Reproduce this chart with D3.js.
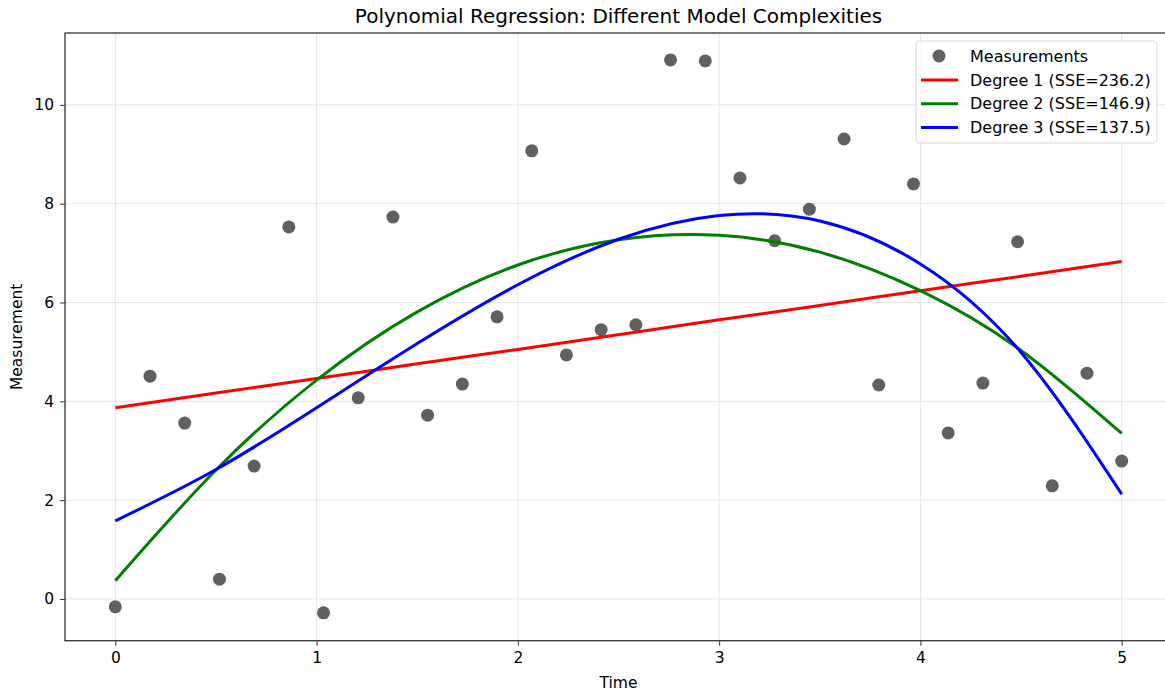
<!DOCTYPE html>
<html lang="en">
<head>
  <meta charset="utf-8">
  <title>Polynomial Regression</title>
  <script src="https://d3js.org/d3.v7.min.js"></script>
  <style>
    body { margin: 0; background: #fff; }
    text { font-family: "DejaVu Sans", sans-serif; fill: #000; }
    .grid line { stroke: #e5e5e5; stroke-width: 1; }
  </style>
</head>
<body>
  <div id="chart"></div>

  <script>
    "use strict"

    // measurements (30 samples evenly spaced over 0..5)
    var measureX = d3.range(30).map(i => i * 5 / 29);
    var measureY = [-0.16, 4.51, 3.56, 0.40, 2.69, 7.53, -0.28, 4.07, 7.73, 3.72,
                    4.35, 5.71, 9.07, 4.94, 5.45, 5.55, 10.91, 10.89, 8.52, 7.25,
                    7.89, 9.31, 4.33, 8.40, 3.36, 4.37, 7.23, 2.29, 4.57, 2.79];

    // fitted curves, read at x = 0, 0.5, ..., 5
    var curveX = [0, 0.5, 1, 1.5, 2, 2.5, 3, 3.5, 4, 4.5, 5];
    var deg1 = [3.87, 4.17, 4.46, 4.76, 5.05, 5.35, 5.65, 5.94, 6.24, 6.53, 6.83];
    var deg2 = [0.37, 2.61, 4.43, 5.81, 6.76, 7.27, 7.36, 7.02, 6.24, 5.03, 3.35];
    var deg3 = [1.58, 2.62, 3.87, 5.17, 6.36, 7.28, 7.76, 7.65, 6.78, 4.99, 2.12];

    var seriesNames = ["Degree 1 (SSE=236.2)", "Degree 2 (SSE=146.9)", "Degree 3 (SSE=137.5)"];
    var seriesColors = ["#ff0000", "#008000", "#0000ff"];
    var xTicks = [0, 1, 2, 3, 4, 5];
    var yTicks = [0, 2, 4, 6, 8, 10];

    var larguraSVG = 1165, alturaSVG = 692;
    var margin = {top: 33, left: 65},
        larguraVis = 1107,
        alturaVis = 607.7;

    var svg = d3.select('#chart')
      .append('svg')
        .attr('width', larguraSVG)
        .attr('height', alturaSVG);

    var grafico = svg.append('g')
        .attr('transform', 'translate(' + margin.left + ',' + margin.top + ')');

    var x = d3.scaleLinear().domain([-0.25, 5.25]).range([0, larguraVis]);
    var y = d3.scaleLinear().domain([-0.845, 11.455]).range([alturaVis, 0]);

    // grid
    var grid = grafico.append('g').attr('class', 'grid');
    grid.selectAll('.gx').data(xTicks).enter().append('line')
      .attr('x1', d => x(d)).attr('x2', d => x(d))
      .attr('y1', 0).attr('y2', alturaVis);
    grid.selectAll('.gy').data(yTicks).enter().append('line')
      .attr('x1', 0).attr('x2', larguraVis)
      .attr('y1', d => y(d)).attr('y2', d => y(d));

    // points
    grafico.selectAll('circle.pt')
      .data(measureY)
      .enter()
        .append('circle')
          .attr('class', 'pt')
          .attr('cx', (d, i) => x(measureX[i]))
          .attr('cy', d => y(d))
          .attr('r', 6.5)
          .style('fill', '#606060');

    // curves
    var linha = d3.line()
      .x(d => x(d[0]))
      .y(d => y(d[1]))
      .curve(d3.curveNatural);

    [deg1, deg2, deg3].forEach(function(serie, k) {
      grafico.append('path')
        .datum(curveX.map((cx, i) => [cx, serie[i]]))
        .attr('d', linha)
        .attr('fill', 'none')
        .attr('stroke', seriesColors[k])
        .attr('stroke-width', 3);
    });

    // axes
    var eixoX = grafico.append('g')
      .attr('transform', 'translate(0,' + alturaVis + ')')
      .call(d3.axisBottom(x).tickValues(xTicks).tickFormat(d3.format('d')).tickSizeOuter(0).tickSize(5).tickPadding(6));
    var eixoY = grafico.append('g')
      .call(d3.axisLeft(y).tickValues(yTicks).tickFormat(d3.format('d')).tickSizeOuter(0).tickSize(5).tickPadding(6));

    [eixoX, eixoY].forEach(function(e) {
      e.select('.domain').remove();
      e.selectAll('line').attr('stroke', '#333');
      e.selectAll('text').style('font-size', '15.5px').style('font-family', '"DejaVu Sans", sans-serif').attr('fill', '#000');
    });

    // spines
    grafico.append('rect')
      .attr('width', larguraVis).attr('height', alturaVis)
      .attr('fill', 'none').attr('stroke', '#333').attr('stroke-width', 1.3);

    // labels
    svg.append('text')
      .attr('x', margin.left + larguraVis / 2).attr('y', 23)
      .attr('text-anchor', 'middle').style('font-size', '20px')
      .text('Polynomial Regression: Different Model Complexities');
    svg.append('text')
      .attr('x', margin.left + larguraVis / 2).attr('y', 688)
      .attr('text-anchor', 'middle').style('font-size', '15.5px')
      .text('Time');
    svg.append('text')
      .attr('transform', 'translate(22,' + (margin.top + alturaVis / 2) + ') rotate(-90)')
      .attr('text-anchor', 'middle').style('font-size', '15.5px')
      .text('Measurement');

    // legend
    var legenda = svg.append('g').attr('transform', 'translate(916,41)');
    legenda.append('rect')
      .attr('width', 241).attr('height', 102).attr('rx', 3)
      .attr('fill', '#fff').attr('fill-opacity', 0.8)
      .attr('stroke', '#d6d6d6');
    legenda.append('circle')
      .attr('cx', 23).attr('cy', 15).attr('r', 6.5).style('fill', '#606060');
    legenda.append('text')
      .attr('x', 54).attr('y', 15).attr('dy', '0.35em').style('font-size', '16px')
      .text('Measurements');
    seriesNames.forEach(function(nome, k) {
      var yy = 39 + k * 23.7;
      legenda.append('line')
        .attr('x1', 5).attr('x2', 42).attr('y1', yy).attr('y2', yy)
        .attr('stroke', seriesColors[k]).attr('stroke-width', 3);
      legenda.append('text')
        .attr('x', 54).attr('y', yy).attr('dy', '0.35em').style('font-size', '16px')
        .text(nome);
    });
  </script>
</body>
</html>
